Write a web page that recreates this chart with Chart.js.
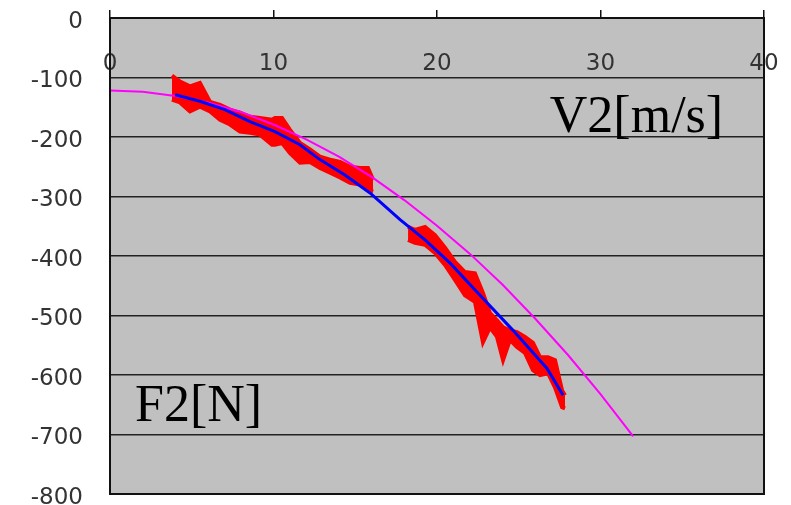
<!DOCTYPE html>
<html>
<head>
<meta charset="utf-8">
<script src="https://cdn.jsdelivr.net/npm/chart.js@4.4.0/dist/chart.umd.min.js"></script>
<style>
  body { margin: 0; background: #fff; }
  #wrap { width: 791px; height: 505px; }
</style>
</head>
<body>
<div id="wrap"><canvas id="f2_chart" width="791" height="505"></canvas></div>
<script>
"use strict";

// x axis: V2 [m/s], y axis: F2 [N]
const xTicks = [0, 10, 20, 30, 40];
const yTicks = [0, -100, -200, -300, -400, -500, -600, -700, -800];

// measured F2 (noisy trace), read as upper / lower edge of the band
const redX1 = [3.79, 4.28, 4.89, 5.50, 6.12, 6.73, 7.34, 7.95, 8.56, 9.17, 9.91, 10.09, 10.52, 11.01, 11.62, 12.23, 12.84, 13.46, 14.07, 14.68, 15.29, 15.78, 16.09];
const redHi1 = [-97, -107, -115, -109, -141, -146, -154, -159, -166, -168, -171, -168, -168, -188, -210, -221, -233, -238, -242, -250, -252, -252, -272];
const redLo1 = [-137, -142, -157, -149, -157, -171, -179, -191, -193, -196, -213, -213, -210, -227, -243, -242, -252, -260, -268, -277, -280, -289, -292];

const redX2 = [18.23, 18.65, 19.27, 19.88, 20.49, 21.10, 21.71, 22.32, 22.81, 23.24, 23.67, 24.04, 24.46, 24.89, 25.38, 25.87, 26.30, 26.79, 27.22, 27.65, 27.83];
const redHi2 = [-351, -356, -351, -365, -386, -410, -427, -429, -462, -496, -508, -520, -525, -528, -536, -546, -570, -570, -575, -626, -634];
const redLo2 = [-373, -378, -381, -395, -415, -440, -466, -477, -545, -520, -536, -575, -541, -553, -563, -592, -600, -597, -621, -654, -656];

// fitted curve (blue)
const blueX = [3.98, 5.50, 7.03, 8.56, 10.09, 11.62, 12.84, 14.37, 15.90, 17.74, 19.27, 20.80, 22.63, 24.65, 26.73, 27.71];
const blueY = [-129, -140, -154, -174, -191, -213, -238, -264, -294, -339, -373, -412, -466, -525, -589, -634];

// calculated curve (magenta)
const magX = [0, 2, 4, 6, 8, 10, 12, 14, 16, 18, 20, 22, 24, 26, 28, 30, 32];
const magY = [-122, -124, -131, -142, -158, -179, -204, -233, -267, -306, -349, -396, -448, -505, -566, -632, -703];

function pts(xs, ys) {
  return xs.map((x, i) => ({ x: x, y: ys[i] }));
}

const plotBg = {
  id: "plotBg",
  beforeDraw(chart) {
    const a = chart.chartArea;
    const c = chart.ctx;
    c.save();
    c.fillStyle = "#c0c0c0";
    c.fillRect(a.left, a.top, a.right - a.left, a.bottom - a.top);
    c.restore();
  },
  afterDatasetsDraw(chart) {
    const a = chart.chartArea;
    const c = chart.ctx;
    c.save();
    c.strokeStyle = "#111";
    c.lineWidth = 2;
    c.strokeRect(a.left, a.top, a.right - a.left, a.bottom - a.top);
    c.restore();
  }
};

const axisNames = {
  id: "axisNames",
  afterDatasetsDraw(chart) {
    const c = chart.ctx;
    const xs = chart.scales.x;
    const ys = chart.scales.y;
    c.save();
    c.fillStyle = "#000";
    c.font = "52px 'Liberation Serif'";
    c.textAlign = "left";
    c.textBaseline = "alphabetic";
    c.fillText("V2[m/s]", xs.getPixelForValue(26.9), ys.getPixelForValue(-191));
    c.fillText("F2[N]", xs.getPixelForValue(1.53), ys.getPixelForValue(-678));
    c.restore();
  }
};

const ctx = document.getElementById("f2_chart").getContext("2d");
const f2Chart = new Chart(ctx, {
  type: "scatter",
  data: {
    datasets: [
      {
        label: "fit",
        data: pts(blueX, blueY),
        showLine: true,
        borderColor: "#0000ff",
        borderWidth: 3,
        pointRadius: 0,
        fill: false
      },
      {
        label: "calc",
        data: pts(magX, magY),
        showLine: true,
        borderColor: "#ff00ff",
        borderWidth: 2,
        pointRadius: 0,
        fill: false
      },
      {
        label: "F2 hi 1",
        data: pts(redX1, redHi1),
        showLine: true,
        borderColor: "#ff0000",
        backgroundColor: "#ff0000",
        borderWidth: 4,
        pointRadius: 0,
        fill: "+1"
      },
      {
        label: "F2 lo 1",
        data: pts(redX1, redLo1),
        showLine: true,
        borderColor: "#ff0000",
        borderWidth: 4,
        pointRadius: 0,
        fill: false
      },
      {
        label: "F2 hi 2",
        data: pts(redX2, redHi2),
        showLine: true,
        borderColor: "#ff0000",
        backgroundColor: "#ff0000",
        borderWidth: 4,
        pointRadius: 0,
        fill: "+1"
      },
      {
        label: "F2 lo 2",
        data: pts(redX2, redLo2),
        showLine: true,
        borderColor: "#ff0000",
        borderWidth: 4,
        pointRadius: 0,
        fill: false
      }
    ]
  },
  options: {
    responsive: false,
    animation: false,
    layout: { padding: { top: 0, left: 0, right: 27, bottom: 11 } },
    plugins: {
      legend: { display: false },
      tooltip: { enabled: false }
    },
    scales: {
      x: {
        type: "linear",
        position: "top",
        min: 0,
        max: 40,
        afterBuildTicks(scale) {
          scale.ticks = xTicks.map(v => ({ value: v }));
        },
        afterFit(scale) {
          scale.height = 18;
          scale.paddingLeft = 0;
          scale.paddingRight = 0;
        },
        border: { display: false },
        grid: {
          drawOnChartArea: false,
          drawTicks: true,
          tickLength: 8,
          tickColor: "#111",
          lineWidth: 1.5
        },
        ticks: {
          mirror: true,
          autoSkip: false,
          maxRotation: 0,
          padding: 35,
          color: "#333",
          font: { family: "DejaVu Sans", size: 23, lineHeight: 1 }
        }
      },
      y: {
        type: "linear",
        min: -800,
        max: 0,
        afterBuildTicks(scale) {
          scale.ticks = yTicks.map(v => ({ value: v }));
        },
        afterFit(scale) {
          scale.width = 110;
        },
        border: { display: false },
        grid: {
          drawTicks: true,
          tickLength: 27,
          tickColor: "rgba(0,0,0,0)",
          color: "#222",
          lineWidth: 1.5
        },
        ticks: {
          padding: 0,
          color: "#333",
          // empty first line nudges the label a few px below its grid line
          callback: value => ["", String(value)],
          font: { family: "DejaVu Sans", size: 23, lineHeight: 0.35 }
        }
      }
    }
  },
  plugins: [plotBg, axisNames]
});
</script>
</body>
</html>
